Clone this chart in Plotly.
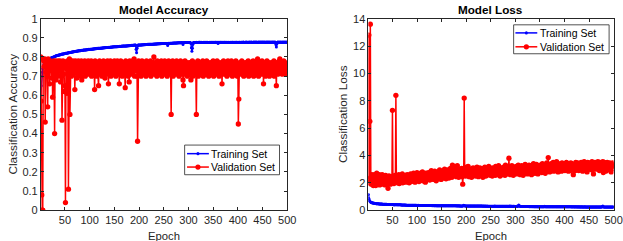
import plotly.graph_objects as go

epochs = list(range(1, 501))

train_acc = [
0.600,0.650,0.700,0.720,0.740,0.750,0.760,0.765,0.770,0.774,0.777,0.780,0.782,0.784,0.786,0.787,0.789,0.790,0.791,0.793,0.794,0.795,0.796,0.797,0.798,
0.799,0.800,0.801,0.803,0.804,0.805,0.806,0.806,0.808,0.808,0.809,0.810,0.811,0.811,0.812,0.813,0.813,0.814,0.815,0.815,0.816,0.816,0.817,0.818,0.818,
0.819,0.819,0.820,0.820,0.821,0.822,0.821,0.823,0.823,0.824,0.824,0.825,0.825,0.826,0.826,0.827,0.826,0.828,0.828,0.829,0.829,0.830,0.830,0.831,0.830,
0.831,0.832,0.832,0.833,0.833,0.832,0.834,0.834,0.835,0.835,0.834,0.836,0.836,0.837,0.836,0.837,0.838,0.837,0.838,0.839,0.838,0.839,0.840,0.839,0.840,
0.840,0.841,0.840,0.841,0.842,0.841,0.842,0.843,0.842,0.843,0.843,0.844,0.843,0.844,0.845,0.844,0.845,0.845,0.846,0.845,0.846,0.846,0.847,0.846,0.847,
0.847,0.848,0.847,0.848,0.848,0.849,0.848,0.849,0.849,0.850,0.849,0.850,0.850,0.851,0.850,0.851,0.851,0.852,0.851,0.852,0.852,0.853,0.852,0.853,0.853,
0.853,0.854,0.853,0.854,0.854,0.855,0.854,0.855,0.855,0.855,0.856,0.855,0.856,0.856,0.857,0.856,0.857,0.857,0.857,0.858,0.857,0.858,0.858,0.858,0.859,
0.858,0.859,0.859,0.859,0.860,0.859,0.860,0.860,0.860,0.861,0.860,0.861,0.861,0.861,0.862,0.861,0.862,0.862,0.840,0.822,0.845,0.858,0.862,0.862,0.863,
0.862,0.863,0.863,0.863,0.864,0.863,0.864,0.864,0.864,0.864,0.865,0.864,0.865,0.865,0.865,0.865,0.866,0.865,0.866,0.866,0.866,0.866,0.867,0.866,0.867,
0.867,0.867,0.867,0.868,0.867,0.868,0.868,0.868,0.868,0.868,0.869,0.868,0.869,0.869,0.869,0.869,0.869,0.870,0.869,0.870,0.870,0.870,0.870,0.870,0.871,
0.870,0.871,0.870,0.871,0.871,0.871,0.871,0.860,0.871,0.872,0.871,0.872,0.872,0.872,0.872,0.872,0.872,0.873,0.872,0.873,0.873,0.873,0.873,0.873,0.873,
0.873,0.874,0.873,0.874,0.874,0.874,0.874,0.874,0.874,0.874,0.874,0.875,0.874,0.865,0.874,0.875,0.875,0.875,0.875,0.875,0.875,0.875,0.876,0.875,0.876,
0.875,0.876,0.875,0.876,0.870,0.848,0.830,0.845,0.866,0.875,0.876,0.876,0.876,0.876,0.876,0.876,0.877,0.876,0.876,0.877,0.876,0.877,0.877,0.876,0.877,
0.876,0.877,0.876,0.876,0.877,0.876,0.877,0.876,0.876,0.877,0.876,0.877,0.876,0.877,0.876,0.876,0.877,0.876,0.877,0.876,0.877,0.876,0.877,0.876,0.877,
0.876,0.877,0.876,0.877,0.877,0.876,0.877,0.876,0.877,0.870,0.877,0.876,0.877,0.876,0.877,0.877,0.876,0.877,0.876,0.877,0.876,0.877,0.877,0.876,0.877,
0.876,0.877,0.875,0.876,0.877,0.876,0.877,0.876,0.875,0.877,0.876,0.877,0.876,0.877,0.877,0.876,0.877,0.876,0.877,0.877,0.876,0.877,0.877,0.876,0.877,
0.877,0.876,0.877,0.877,0.876,0.877,0.877,0.877,0.876,0.877,0.878,0.877,0.877,0.876,0.877,0.877,0.878,0.877,0.877,0.877,0.876,0.877,0.878,0.877,0.877,
0.877,0.878,0.877,0.877,0.876,0.877,0.878,0.877,0.877,0.878,0.877,0.877,0.878,0.877,0.876,0.877,0.878,0.877,0.877,0.878,0.877,0.877,0.878,0.877,0.877,
0.878,0.877,0.877,0.878,0.877,0.876,0.878,0.877,0.877,0.878,0.877,0.877,0.878,0.877,0.877,0.878,0.876,0.877,0.878,0.877,0.877,0.878,0.877,0.877,0.878,
0.877,0.865,0.852,0.868,0.877,0.878,0.877,0.877,0.878,0.877,0.877,0.878,0.877,0.876,0.878,0.877,0.877,0.878,0.877,0.877,0.878,0.877,0.877,0.878,0.877,
]

val_acc = [
0.80,0.57,0.08,0.00,0.00,0.79,0.78,0.75,0.79,0.46,0.77,0.72,0.78,0.70,0.54,0.79,0.74,0.77,0.66,0.78,0.73,0.76,0.69,0.77,0.59,
0.75,0.78,0.71,0.40,0.76,0.78,0.68,0.74,0.77,0.72,0.78,0.70,0.76,0.73,0.78,0.67,0.75,0.77,0.47,0.74,0.78,0.71,0.76,0.62,0.65,
0.04,0.77,0.74,0.61,0.78,0.72,0.11,0.77,0.79,0.50,0.75,0.78,0.70,0.76,0.73,0.78,0.71,0.77,0.74,0.63,0.78,0.72,0.76,0.69,0.77,
0.74,0.78,0.71,0.76,0.73,0.77,0.70,0.78,0.68,0.75,0.77,0.72,0.76,0.74,0.78,0.70,0.75,0.77,0.73,0.76,0.71,0.78,0.74,0.72,0.77,
0.75,0.72,0.78,0.70,0.76,0.74,0.77,0.71,0.75,0.63,0.78,0.73,0.76,0.70,0.77,0.74,0.72,0.65,0.76,0.78,0.71,0.75,0.73,0.77,0.70,
0.76,0.74,0.78,0.72,0.75,0.69,0.77,0.73,0.76,0.71,0.78,0.74,0.66,0.77,0.72,0.75,0.78,0.70,0.76,0.73,0.77,0.71,0.75,0.74,0.78,
0.72,0.76,0.70,0.77,0.74,0.78,0.71,0.75,0.73,0.66,0.77,0.74,0.78,0.72,0.76,0.70,0.75,0.77,0.73,0.76,0.71,0.64,0.78,0.74,0.76,
0.72,0.77,0.70,0.75,0.67,0.78,0.73,0.76,0.71,0.77,0.74,0.78,0.72,0.75,0.79,0.70,0.76,0.74,0.77,0.73,0.70,0.36,0.75,0.78,0.71,
0.76,0.73,0.77,0.70,0.75,0.78,0.72,0.76,0.74,0.71,0.77,0.73,0.76,0.70,0.78,0.74,0.72,0.77,0.75,0.71,0.76,0.73,0.78,0.70,0.75,
0.77,0.72,0.76,0.74,0.80,0.71,0.75,0.77,0.73,0.76,0.70,0.78,0.74,0.72,0.77,0.75,0.71,0.76,0.73,0.78,0.70,0.75,0.77,0.72,0.76,
0.74,0.78,0.71,0.75,0.73,0.77,0.70,0.76,0.74,0.78,0.72,0.75,0.77,0.71,0.50,0.76,0.73,0.78,0.70,0.75,0.74,0.77,0.72,0.76,0.71,
0.78,0.74,0.72,0.77,0.75,0.70,0.76,0.73,0.78,0.71,0.75,0.77,0.72,0.68,0.65,0.76,0.74,0.78,0.71,0.75,0.73,0.77,0.70,0.76,0.74,
0.72,0.77,0.75,0.71,0.68,0.76,0.73,0.78,0.70,0.75,0.74,0.77,0.72,0.76,0.71,0.50,0.75,0.73,0.78,0.70,0.76,0.74,0.72,0.77,0.75,
0.71,0.76,0.73,0.78,0.70,0.75,0.77,0.72,0.76,0.74,0.71,0.78,0.73,0.75,0.77,0.70,0.76,0.74,0.72,0.77,0.75,0.71,0.76,0.73,0.78,
0.70,0.75,0.74,0.77,0.72,0.76,0.71,0.78,0.73,0.75,0.77,0.70,0.76,0.74,0.72,0.77,0.75,0.66,0.76,0.73,0.78,0.71,0.75,0.74,0.77,
0.72,0.76,0.70,0.75,0.78,0.73,0.77,0.71,0.76,0.74,0.72,0.78,0.75,0.70,0.76,0.73,0.77,0.71,0.75,0.74,0.78,0.72,0.76,0.70,0.75,
0.45,0.58,0.74,0.77,0.72,0.76,0.71,0.78,0.73,0.75,0.77,0.70,0.76,0.74,0.72,0.77,0.75,0.71,0.76,0.73,0.78,0.70,0.75,0.74,0.77,
0.72,0.76,0.71,0.75,0.73,0.78,0.70,0.76,0.74,0.72,0.77,0.75,0.71,0.76,0.79,0.73,0.70,0.75,0.77,0.72,0.76,0.74,0.71,0.78,0.73,
0.75,0.66,0.77,0.72,0.76,0.70,0.75,0.74,0.78,0.71,0.76,0.73,0.77,0.70,0.75,0.74,0.72,0.77,0.76,0.71,0.75,0.73,0.78,0.70,0.76,
0.74,0.72,0.65,0.77,0.75,0.71,0.76,0.73,0.78,0.79,0.75,0.72,0.77,0.74,0.71,0.76,0.73,0.78,0.72,0.75,0.77,0.74,0.71,0.76,0.75,
]

train_loss = [
1.15,0.85,0.72,0.66,0.62,0.59,0.57,0.55,0.54,0.53,0.52,0.51,0.50,0.50,0.49,0.49,0.48,0.48,0.48,0.47,0.47,0.47,0.46,0.46,0.46,
0.45,0.45,0.45,0.45,0.44,0.44,0.44,0.44,0.43,0.43,0.43,0.43,0.43,0.42,0.42,0.42,0.42,0.42,0.42,0.41,0.41,0.41,0.41,0.41,0.41,
0.41,0.40,0.40,0.40,0.40,0.40,0.41,0.40,0.40,0.39,0.39,0.39,0.39,0.39,0.39,0.39,0.39,0.38,0.38,0.38,0.38,0.38,0.38,0.38,0.38,
0.38,0.37,0.38,0.37,0.37,0.37,0.37,0.37,0.37,0.37,0.37,0.37,0.36,0.37,0.36,0.36,0.36,0.36,0.36,0.36,0.36,0.36,0.36,0.35,0.36,
0.35,0.35,0.36,0.35,0.35,0.35,0.35,0.35,0.35,0.35,0.35,0.35,0.35,0.34,0.35,0.34,0.34,0.35,0.34,0.34,0.34,0.34,0.34,0.34,0.34,
0.34,0.34,0.34,0.34,0.34,0.33,0.34,0.34,0.33,0.34,0.33,0.33,0.34,0.33,0.33,0.33,0.33,0.33,0.33,0.33,0.33,0.33,0.33,0.33,0.33,
0.33,0.33,0.33,0.33,0.32,0.33,0.33,0.32,0.33,0.32,0.33,0.32,0.32,0.33,0.32,0.32,0.32,0.32,0.32,0.32,0.32,0.32,0.32,0.32,0.32,
0.32,0.32,0.32,0.32,0.32,0.31,0.32,0.32,0.31,0.32,0.31,0.32,0.31,0.31,0.31,0.31,0.31,0.31,0.33,0.36,0.34,0.32,0.31,0.31,0.31,
0.31,0.31,0.31,0.31,0.31,0.31,0.31,0.31,0.30,0.31,0.31,0.30,0.31,0.30,0.31,0.30,0.30,0.31,0.30,0.30,0.30,0.30,0.30,0.30,0.30,
0.30,0.30,0.30,0.30,0.30,0.30,0.30,0.30,0.29,0.30,0.30,0.29,0.30,0.29,0.30,0.29,0.29,0.30,0.29,0.29,0.29,0.29,0.29,0.29,0.29,
0.29,0.29,0.29,0.29,0.29,0.29,0.29,0.31,0.29,0.29,0.29,0.29,0.28,0.29,0.29,0.28,0.29,0.28,0.29,0.28,0.28,0.29,0.28,0.28,0.28,
0.28,0.28,0.28,0.28,0.28,0.28,0.28,0.28,0.28,0.28,0.28,0.28,0.28,0.30,0.28,0.28,0.28,0.28,0.28,0.27,0.28,0.28,0.27,0.28,0.27,
0.27,0.28,0.27,0.27,0.29,0.33,0.38,0.33,0.29,0.28,0.27,0.27,0.27,0.27,0.27,0.27,0.27,0.27,0.27,0.27,0.27,0.27,0.27,0.27,0.27,
0.27,0.27,0.27,0.26,0.27,0.27,0.26,0.27,0.27,0.26,0.27,0.26,0.27,0.26,0.26,0.27,0.26,0.26,0.27,0.26,0.26,0.26,0.26,0.26,0.26,
0.26,0.26,0.26,0.26,0.26,0.26,0.26,0.26,0.26,0.28,0.26,0.26,0.26,0.26,0.26,0.26,0.26,0.26,0.26,0.26,0.26,0.25,0.26,0.26,0.26,
0.26,0.25,0.26,0.26,0.25,0.26,0.25,0.26,0.25,0.26,0.25,0.25,0.26,0.25,0.25,0.25,0.26,0.25,0.25,0.25,0.25,0.25,0.25,0.25,0.25,
0.25,0.25,0.25,0.25,0.25,0.25,0.25,0.25,0.25,0.25,0.25,0.25,0.25,0.25,0.24,0.25,0.25,0.25,0.24,0.25,0.25,0.24,0.25,0.25,0.24,
0.25,0.24,0.25,0.24,0.25,0.24,0.24,0.25,0.24,0.24,0.25,0.24,0.24,0.24,0.24,0.25,0.24,0.24,0.24,0.24,0.24,0.24,0.24,0.24,0.24,
0.24,0.24,0.24,0.24,0.24,0.24,0.24,0.24,0.24,0.24,0.24,0.24,0.24,0.23,0.24,0.24,0.24,0.23,0.24,0.24,0.23,0.24,0.24,0.23,0.24,
0.24,0.27,0.31,0.26,0.24,0.23,0.24,0.23,0.24,0.23,0.23,0.24,0.23,0.23,0.23,0.24,0.23,0.23,0.23,0.23,0.23,0.23,0.23,0.23,0.23,
]

val_loss = [
2.00,12.80,2.30,6.50,13.60,2.40,1.90,2.60,2.10,2.50,1.80,2.30,2.60,2.00,2.40,1.80,2.20,2.70,1.90,2.30,2.50,2.00,2.60,1.85,2.20,
2.45,2.00,2.30,2.60,1.90,2.20,2.50,2.05,2.35,1.85,2.55,2.10,2.30,1.95,2.40,1.60,2.25,2.50,2.00,2.35,1.90,2.45,2.15,2.30,7.30,
2.10,2.40,1.95,2.30,2.55,2.05,8.40,2.20,2.45,2.00,2.35,2.15,2.60,1.95,2.30,2.50,2.05,2.40,2.20,2.65,2.00,2.35,2.50,2.10,2.30,
2.55,2.05,2.40,2.20,2.60,2.10,2.35,2.50,2.00,2.45,2.25,2.65,2.10,2.40,2.55,2.15,2.35,2.70,2.20,2.45,2.05,2.60,2.30,2.50,2.75,
2.25,2.45,2.60,2.10,2.55,2.35,2.70,2.20,2.50,2.40,2.80,2.15,2.45,2.65,2.30,2.55,2.05,2.70,2.40,2.60,2.25,2.50,2.75,2.35,2.55,
2.20,2.65,2.45,2.90,2.30,2.60,2.40,2.75,2.25,2.55,2.85,2.35,2.60,2.15,2.70,2.50,2.80,2.30,2.65,2.45,2.95,2.40,2.60,2.25,2.75,
2.55,2.85,2.35,2.70,2.50,3.00,2.40,2.65,2.30,2.80,2.55,2.95,2.45,2.70,2.35,2.85,2.60,3.05,2.50,2.75,2.40,3.30,2.65,2.90,2.55,
2.80,3.20,2.60,2.95,2.45,2.75,3.25,2.55,2.85,2.40,2.70,3.00,2.50,2.80,2.65,3.05,2.45,1.90,2.75,2.60,8.20,2.70,2.90,2.50,3.15,
2.65,2.95,2.55,3.20,2.70,2.45,2.85,3.00,2.60,2.80,2.40,2.95,2.70,3.10,2.55,2.85,2.65,3.05,2.50,2.90,2.75,3.15,2.60,2.85,2.45,
2.95,2.70,3.10,2.55,2.85,3.00,2.65,2.90,2.40,3.05,2.75,2.60,3.15,2.80,2.50,2.95,2.70,3.10,2.60,2.85,3.20,2.65,2.95,2.55,3.05,
2.75,2.90,2.50,3.10,2.80,2.65,3.00,2.85,2.55,3.20,2.70,2.95,2.60,3.05,2.80,3.25,2.65,2.90,2.50,3.10,2.75,3.00,2.60,2.95,2.85,
3.15,2.70,3.00,2.55,3.30,2.80,3.05,2.65,2.95,3.20,2.75,3.80,2.85,3.10,2.60,3.00,2.80,3.25,2.70,3.05,2.55,2.95,3.15,2.75,3.00,
2.85,3.20,2.65,3.05,2.80,3.30,2.70,2.95,3.10,2.60,3.00,2.85,3.25,2.75,3.05,2.55,2.95,3.15,2.80,3.35,2.70,3.00,2.85,3.20,2.65,
3.10,2.90,3.30,2.75,3.05,2.85,3.25,2.60,3.00,3.15,2.80,3.40,2.90,3.10,2.70,3.20,2.95,3.35,2.80,3.05,2.65,3.25,2.95,3.15,2.85,
3.30,2.90,3.10,2.75,3.40,3.00,3.20,2.85,3.05,3.30,2.70,3.15,2.95,3.45,2.85,3.10,3.85,3.00,3.25,2.80,3.15,2.95,3.40,2.90,3.20,
3.05,3.50,2.85,3.25,3.00,3.35,2.90,3.15,3.55,2.95,3.20,2.80,3.40,3.05,3.25,2.90,3.30,3.10,2.85,3.45,3.00,3.20,2.95,3.35,3.10,
2.90,3.30,3.05,3.50,2.95,3.25,3.10,2.85,3.40,3.00,3.20,2.90,3.45,3.10,3.30,2.95,3.15,2.60,3.35,3.05,3.25,2.90,3.50,3.10,3.30,
3.00,3.45,3.15,2.90,3.35,3.05,3.25,2.95,3.50,3.10,3.30,2.85,3.40,3.15,3.55,3.00,3.25,3.45,3.05,3.30,2.80,3.50,3.15,3.35,3.00,
3.25,3.45,3.05,3.35,2.95,3.55,3.15,3.30,2.65,3.40,3.10,3.50,3.00,3.35,3.20,3.45,3.05,3.55,3.15,3.35,2.90,3.50,3.20,3.40,3.10,
3.45,3.00,3.55,2.75,3.30,3.50,3.15,3.40,2.85,3.35,3.05,3.50,3.20,3.40,2.95,3.30,3.45,3.10,3.35,2.80,3.40,3.20,3.45,3.05,3.30,
]

x_ticks = [50, 100, 150, 200, 250, 300, 350, 400, 450, 500]
acc_ticks = [0, 0.1, 0.2, 0.3, 0.4, 0.5, 0.6, 0.7, 0.8, 0.9, 1]
loss_ticks = [0, 2, 4, 6, 8, 10, 12, 14]
series_names = ["Training Set", "Validation Set"]

# page size (the photographed page maps slightly scaled onto the 623x241 picture)
W, H = 633, 250
SX, SY, OY = 0.984, 0.931, 8.3

def X(img):
    return (img / SX) / W

def Y(img):
    return 1 - ((img - OY) / SY) / H

FONT = "Liberation Sans, Arial, Helvetica, sans-serif"
AX = "#262626"
BLUE = "#0000FF"
RED = "#FF0000"

fig = go.Figure()
fig.add_trace(go.Scatter(x=epochs, y=train_acc, mode="lines+markers", name=series_names[0],
                         line=dict(color=BLUE, width=1.5), marker=dict(color=BLUE, size=3),
                         xaxis="x", yaxis="y"))
fig.add_trace(go.Scatter(x=epochs, y=val_acc, mode="lines+markers", name=series_names[1],
                         line=dict(color=RED, width=1.5), marker=dict(color=RED, size=5.3),
                         xaxis="x", yaxis="y"))
fig.add_trace(go.Scatter(x=epochs, y=train_loss, mode="lines+markers", name=series_names[0],
                         line=dict(color=BLUE, width=1.5), marker=dict(color=BLUE, size=3),
                         xaxis="x2", yaxis="y2"))
fig.add_trace(go.Scatter(x=epochs, y=val_loss, mode="lines+markers", name=series_names[1],
                         line=dict(color=RED, width=1.5), marker=dict(color=RED, size=5.3),
                         xaxis="x2", yaxis="y2"))

ydom = [Y(208), Y(20.7)]
axis_common = dict(showline=True, linecolor=AX, linewidth=0.8, mirror="ticks", ticks="inside",
                   ticklen=3, tickcolor=AX, tickwidth=0.8, showgrid=False, zeroline=False,
                   tickfont=dict(family=FONT, size=11, color=AX))

fig.update_layout(
    width=W, height=H,
    margin=dict(l=0, r=0, t=0, b=0),
    paper_bgcolor="white", plot_bgcolor="white",
    font=dict(family=FONT, size=11, color=AX),
    showlegend=False,
    xaxis=dict(domain=[X(40.7), X(286.7)], range=[1, 500], tickvals=x_ticks, anchor="y", **axis_common),
    yaxis=dict(domain=ydom, range=[0, 1], tickvals=acc_ticks, anchor="x", **axis_common),
    xaxis2=dict(domain=[X(367.7), X(612.5)], range=[1, 500], tickvals=x_ticks, anchor="y2", **axis_common),
    yaxis2=dict(domain=ydom, range=[0, 14], tickvals=loss_ticks, anchor="x2", **axis_common),
)

annots = [
    dict(text="<b>Model Accuracy</b>", x=X(163.7), y=Y(11.5), size=11.7, color="#000000", angle=0),
    dict(text="<b>Model Loss</b>", x=X(490), y=Y(11.5), size=11.7, color="#000000", angle=0),
    dict(text="Epoch", x=X(163.7), y=Y(233.5), size=11.3, color=AX, angle=0),
    dict(text="Epoch", x=X(490), y=Y(233.5), size=11.3, color=AX, angle=0),
    dict(text="Classification Accuracy", x=X(13), y=Y(114.4), size=11.8, color=AX, angle=-90),
    dict(text="Classification Loss", x=X(343), y=Y(114.4), size=11.8, color=AX, angle=-90),
]
for a in annots:
    fig.add_annotation(xref="paper", yref="paper", showarrow=False, xanchor="center", yanchor="middle",
                       x=a["x"], y=a["y"], text=a["text"], textangle=a["angle"],
                       font=dict(family=FONT, size=a["size"], color=a["color"]))

# legend boxes (image-pixel geometry of the reference legends)
legends = [
    dict(box=(184.3, 144.3, 279.0, 173.3), line=(186.7, 208.5), text_x=209.5, rows=(152.7, 165.8)),
    dict(box=(512.7, 26.7, 608.0, 55.0), line=(514.5, 536.3), text_x=537.8, rows=(34.6, 48.2)),
]
for lg in legends:
    x0, y0, x1, y1 = lg["box"]
    fig.add_shape(type="rect", xref="paper", yref="paper", x0=X(x0), x1=X(x1), y0=Y(y1), y1=Y(y0),
                  line=dict(color=AX, width=0.8), fillcolor="white", layer="above")
    lx0, lx1 = lg["line"]
    cx = (lx0 + lx1) / 2
    for name, color, ry, msize in zip(series_names, [BLUE, RED], lg["rows"], [3.0, 5.2]):
        fig.add_shape(type="line", xref="paper", yref="paper", x0=X(lx0), x1=X(lx1), y0=Y(ry), y1=Y(ry),
                      line=dict(color=color, width=1.5), layer="above")
        fig.add_shape(type="circle", xref="paper", yref="paper",
                      x0=X(cx - msize / 2), x1=X(cx + msize / 2), y0=Y(ry + msize / 2), y1=Y(ry - msize / 2),
                      line=dict(color=color, width=0), fillcolor=color, layer="above")
        fig.add_annotation(xref="paper", yref="paper", showarrow=False, xanchor="left", yanchor="middle",
                           x=X(lg["text_x"]), y=Y(ry), text=name, borderpad=0,
                           font=dict(family=FONT, size=10.5, color="#000000"))

fig.write_html("out.html", config={"displayModeBar": False},
               post_script="document.body.style.margin='0';document.body.style.overflow='hidden';")
